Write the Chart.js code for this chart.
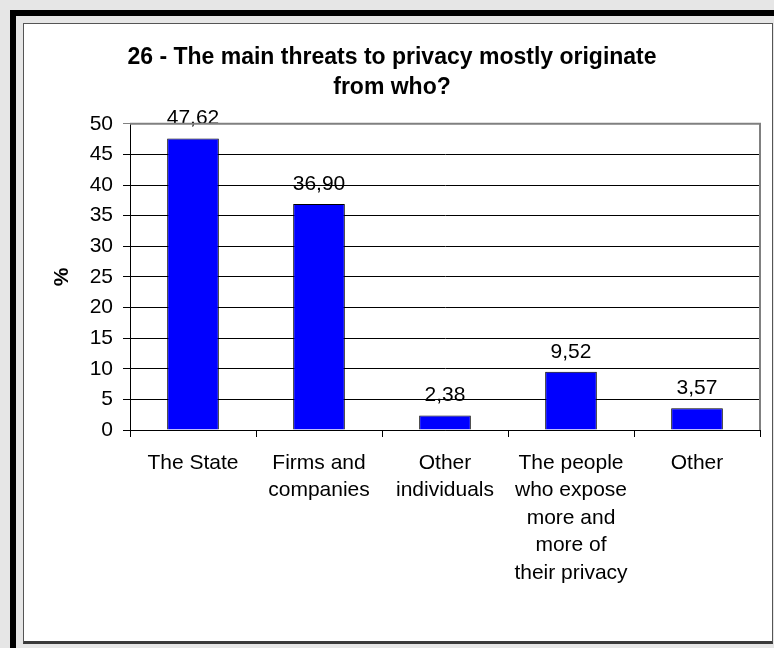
<!DOCTYPE html>
<html>
<head>
<meta charset="utf-8">
<script src="https://cdn.jsdelivr.net/npm/chart.js@4.4.1/dist/chart.umd.min.js"></script>
<style>
  html, body { margin: 0; padding: 0; }
  body { width: 774px; height: 648px; background: #e6e6e6; position: relative; overflow: hidden; }
  #outer { position: absolute; left: 10px; top: 10px; width: 800px; height: 700px;
           border-left: 6px solid #000; border-top: 6px solid #000; box-sizing: border-box; }
  #frame { position: absolute; left: 23px; top: 23px; width: 750px; height: 621px;
           border: 1px solid #555; border-bottom: 3px solid #3a3a3a; background: #fff; box-sizing: border-box; }
  #wrap { position: absolute; left: 24px; top: 24px; width: 749px; height: 616px; }
</style>
</head>
<body>
<div id="outer"></div>
<div id="frame"></div>
<div id="wrap"><canvas id="chart" width="749" height="616"></canvas></div>
<script>
// categorias (etiquetas en varias lineas) y porcentajes
const categories = [
  ["The State"],
  ["Firms and", "companies"],
  ["Other", "individuals"],
  ["The people", "who expose", "more and", "more of", "their privacy"],
  ["Other"]
];
const shares = [47.62, 36.90, 2.38, 9.52, 3.57];
const titleLines = ["26 - The main threats to privacy mostly originate", "from who?"];
const yMin = 0, yMax = 50, yStep = 5;

const fontFamily = "'Liberation Sans', Arial, sans-serif";

// etiquetas de valor encima de cada barra (coma decimal)
const valueLabels = {
  id: 'valueLabels',
  afterDatasetsDraw(chart) {
    const ctx = chart.ctx;
    const meta = chart.getDatasetMeta(0);
    ctx.save();
    ctx.font = `21px ${fontFamily}`;
    ctx.fillStyle = '#000';
    ctx.textAlign = 'center';
    ctx.textBaseline = 'alphabetic';
    meta.data.forEach((bar, i) => {
      ctx.fillText(shares[i].toFixed(2).replace('.', ','), bar.x, bar.y - 14);
    });
    ctx.restore();
  }
};

// borde gris arriba y a la derecha del area del grafico
const plotBorder = {
  id: 'plotBorder',
  afterDraw(chart) {
    const { ctx, chartArea: a } = chart;
    ctx.save();
    ctx.strokeStyle = '#808080';
    ctx.lineWidth = 2;
    ctx.beginPath();
    ctx.moveTo(a.left, a.top);
    ctx.lineTo(a.right, a.top);
    ctx.lineTo(a.right, a.bottom);
    ctx.stroke();
    ctx.restore();
  }
};

new Chart(document.getElementById('chart'), {
  type: 'bar',
  data: {
    labels: categories,
    datasets: [{
      data: shares,
      backgroundColor: '#0000ff',
      borderColor: '#000',
      borderWidth: 1,
      barPercentage: 0.41,
      categoryPercentage: 1
    }]
  },
  options: {
    responsive: false,
    animation: false,
    layout: { padding: { left: 0, right: 13, top: 0, bottom: 0 } },
    plugins: {
      legend: { display: false },
      tooltip: { enabled: false },
      title: {
        display: true,
        text: titleLines,
        color: '#000',
        font: { family: fontFamily, size: 23, weight: 'bold', lineHeight: 1.3 },
        padding: { top: 19, bottom: 21 }
      }
    },
    scales: {
      x: {
        offset: true,
        grid: { drawOnChartArea: false, drawTicks: true, tickLength: 7, color: '#000', offset: true },
        border: { color: '#000', width: 1 },
        ticks: {
          color: '#000',
          font: { family: fontFamily, size: 21, lineHeight: 1.31 },
          padding: 12,
          autoSkip: false,
          maxRotation: 0
        },
        afterFit(scale) { scale.height = 210; }
      },
      y: {
        min: yMin,
        max: yMax,
        ticks: {
          stepSize: yStep,
          color: '#000',
          font: { family: fontFamily, size: 21 },
          padding: 10
        },
        grid: {
          color: c => (c.tick && c.tick.value === yMax) ? '#808080' : '#000',
          tickLength: 7,
          lineWidth: 1
        },
        border: { color: '#000', width: 1 },
        title: {
          display: true,
          text: '%',
          color: '#000',
          font: { family: fontFamily, size: 21, weight: 'bold' },
          padding: { top: 26, bottom: 0 }
        },
        afterFit(scale) { scale.width = 106; }
      }
    }
  },
  plugins: [valueLabels, plotBorder]
});
</script>
</body>
</html>
